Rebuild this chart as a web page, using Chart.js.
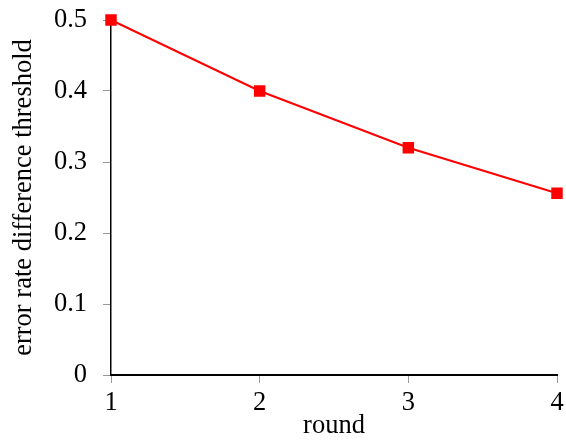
<!DOCTYPE html>
<html><head><meta charset="utf-8">
<script src="https://cdn.jsdelivr.net/npm/chart.js@4/dist/chart.umd.min.js"></script>
<style>html,body{margin:0;padding:0;background:#fff}#w{width:566px;height:444px}</style>
</head><body><div id="w"><canvas id="c"></canvas></div>
<script>
const rounds = [1, 2, 3, 4];
const thresholds = [0.5, 0.4, 0.32, 0.256];
const yTicks = [0, 0.1, 0.2, 0.3, 0.4, 0.5];
const xTitle = 'round';
const yTitle = 'error rate difference threshold';

const font = {family: '"Liberation Serif", "Times New Roman", serif', size: 26.5};
new Chart(document.getElementById('c'), {
  type: 'line',
  data: {datasets: [{
    data: rounds.map((r, i) => ({x: r, y: thresholds[i]})),
    borderColor: '#ff0000', backgroundColor: '#ff0000', borderWidth: 2,
    pointStyle: 'rect', pointRadius: 6.7, pointHoverRadius: 6.7, tension: 0, clip: false
  }]},
  options: {
    responsive: true, maintainAspectRatio: false, animation: false,
    layout: {padding: {top: 20, right: 9, bottom: 0, left: 0}},
    plugins: {legend: {display: false}, tooltip: {enabled: false}},
    scales: {
      x: {type: 'linear', min: 1, max: 4,
        afterBuildTicks: a => { a.ticks = rounds.map(v => ({value: v})); },
        afterFit: s => { s.height = 69; s.paddingLeft = 0; s.paddingRight = 0; },
        ticks: {font, color: '#000', padding: 4, maxRotation: 0, callback: v => String(v)},
        grid: {drawOnChartArea: false, tickLength: 8, tickColor: '#999', tickWidth: 1},
        border: {color: '#000', width: 2},
        title: {display: true, text: xTitle, font, color: '#000', padding: {top: 0, bottom: 2}}},
      y: {min: 0, max: 0.5,
        afterBuildTicks: a => { a.ticks = yTicks.map(v => ({value: v})); },
        afterFit: s => { s.width = 111; s.paddingTop = 0; s.paddingBottom = 0; },
        ticks: {font, color: '#000', padding: 16, callback: v => String(v)},
        grid: {drawOnChartArea: false, tickLength: 8, tickColor: '#999', tickWidth: 1},
        border: {color: '#000', width: 1.5},
        title: {display: true, text: yTitle, font, color: '#000', padding: {top: 8, bottom: 0}}}
    }
  }
});
</script></body></html>
